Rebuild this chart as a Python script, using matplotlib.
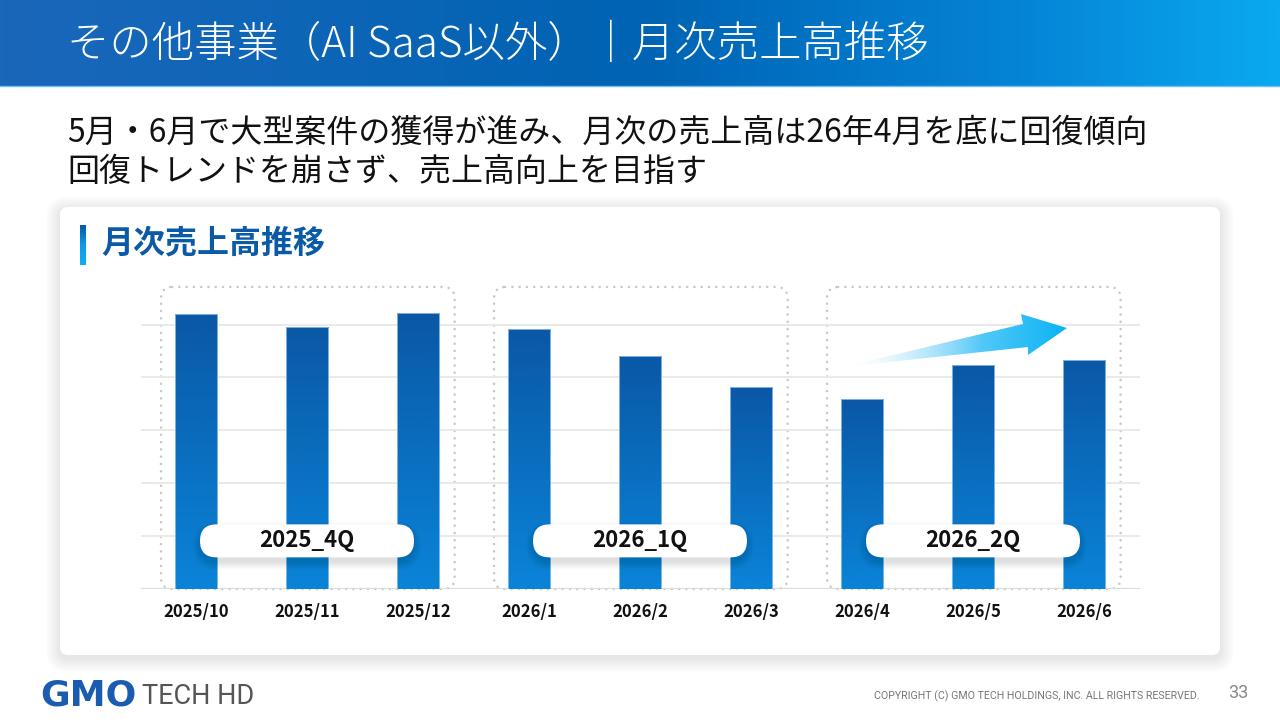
import numpy as np
import matplotlib
matplotlib.use('Agg')
import matplotlib.pyplot as plt
from matplotlib.patches import FancyBboxPatch, Polygon
from matplotlib.colors import LinearSegmentedColormap

plt.rcParams['font.family'] = ['Noto Sans CJK JP', 'DejaVu Sans']

# ---------------- data ----------------
months = ['2025/10', '2025/11', '2025/12', '2026/1', '2026/2', '2026/3',
          '2026/4', '2026/5', '2026/6']
monthly_sales = [5.19, 4.95, 5.21, 4.91, 4.40, 3.81, 3.59, 4.23, 4.33]
quarter_labels = ['2025_4Q', '2026_1Q', '2026_2Q']
months_per_quarter = [3, 3, 3]
gridline_values = [1, 2, 3, 4, 5]

page_title = 'その他事業（AI SaaS以外）｜月次売上高推移'
headline = ['5月・6月で大型案件の獲得が進み、月次の売上高は26年4月を底に回復傾向',
            '回復トレンドを崩さず、売上高向上を目指す']
panel_title = '月次売上高推移'
logo_main = 'GMO'
logo_sub = 'TECH HD'
copyright_text = 'COPYRIGHT (C) GMO TECH HOLDINGS, INC. ALL RIGHTS RESERVED.'
page_number = '33'

# ---------------- figure ----------------
W, H = 1280, 720
fig = plt.figure(figsize=(W / 100, H / 100), dpi=100)
fig.patch.set_facecolor('white')


def px_axes(z):
    a = fig.add_axes([0, 0, 1, 1], zorder=z)
    a.set_xlim(0, W)
    a.set_ylim(H, 0)
    a.set_autoscale_on(False)
    a.set_axis_off()
    return a


bg = px_axes(0)

# header band
hdr_cmap = LinearSegmentedColormap.from_list(
    'hdr', [(0, '#1a67ba'), (0.5, '#0063b3'), (0.8, '#0584d6'), (1, '#0aa9f0')])
bg.imshow(np.linspace(0, 1, 512).reshape(1, -1), extent=[0, W, 86, 0],
          cmap=hdr_cmap, aspect='auto', zorder=1)
bg.plot([0, W], [86, 86], color='#6fc0f0', lw=1, zorder=1.5)
bg.text(67, 45, page_title, color='white', fontsize=30.5, fontweight='light',
        va='center', ha='left', zorder=2)

# headline
bg.text(67, 133, headline[0], fontsize=23, color='#111111', va='center', ha='left')
bg.text(67, 172, headline[1], fontsize=23, color='#111111', va='center', ha='left')

# card with soft shadow
cx0, cy0, cw, ch = 60, 207, 1160, 448
for i in range(12):
    p = 1 + i * 1.2
    bg.add_patch(FancyBboxPatch((cx0 - p, cy0 - p + 3), cw + 2 * p, ch + 2 * p,
                                boxstyle=f'round,pad=0,rounding_size={8 + p}',
                                fc='black', ec='none', alpha=0.006, zorder=2))
bg.add_patch(FancyBboxPatch((cx0, cy0), cw, ch, boxstyle='round,pad=0,rounding_size=8',
                            fc='white', ec='none', zorder=3))

# panel title with accent bar
acc_cmap = LinearSegmentedColormap.from_list('acc', ['#0a56a4', '#0d9ae8', '#12aef2'])
bg.imshow(np.linspace(0, 1, 100).reshape(-1, 1), extent=[80, 86, 265, 225],
          cmap=acc_cmap, aspect='auto', zorder=4)
bg.text(101, 244, panel_title, fontsize=23, fontweight='bold', color='#0b5aa6',
        va='center', ha='left', zorder=4)

# footer
bg.text(40, 696, logo_main, fontsize=26, fontweight='heavy', color='#1a5cb0',
        family=['DejaVu Sans'], va='center', ha='left')
bg.text(142, 697, logo_sub, fontsize=19.5, color='#555555',
        family=['Roboto', 'DejaVu Sans'], va='center', ha='left')
bg.text(1200, 696, copyright_text, fontsize=7.7, color='#777777',
        family=['Roboto', 'DejaVu Sans'], va='center', ha='right')
bg.text(1228, 693, page_number, fontsize=13, color='#888888',
        family=['Roboto', 'DejaVu Sans'], va='center', ha='left')

# ---------------- chart axes ----------------
baseline_px, unit_px, ymax = 589, 52.9, 6
left_px, right_px = 140.5, 1139.5
ax = fig.add_axes([left_px / W, (H - baseline_px) / H,
                   (right_px - left_px) / W, ymax * unit_px / H], zorder=5)
ax.patch.set_alpha(0)
x = np.arange(len(months))
for s in ax.spines.values():
    s.set_visible(False)
ax.set_yticks(gridline_values)
ax.tick_params(axis='y', length=0, labelleft=False)
ax.grid(axis='y', color='#e8e8e8', lw=1.3, zorder=0)
ax.axhline(0, color='#dcdcdc', lw=1.6, zorder=1)

bars = ax.bar(x, monthly_sales, width=0.38, color='none', edgecolor='#8fc2ec',
              lw=0.6, zorder=3)
bar_cmap = LinearSegmentedColormap.from_list('bar', ['#0a58a6', '#0a84d8'])
for b in bars:
    im = ax.imshow(np.linspace(0, 1, 256).reshape(-1, 1),
                   extent=[b.get_x(), b.get_x() + b.get_width(), 0, b.get_height()],
                   cmap=bar_cmap, aspect='auto', origin='upper', zorder=2)
    im.set_clip_path(b)

ax.set_xlim(-0.5, len(months) - 0.5)
ax.set_ylim(0, ymax)
ax.set_xticks(x, months, fontsize=12, fontweight='bold', color='#111111')
ax.tick_params(axis='x', length=0, pad=10)

# ---------------- overlay (pills, arrow) ----------------
fg = px_axes(10)


def data_to_px(xd, yd):
    disp = ax.transData.transform((xd, yd))
    return bg.transData.inverted().transform(disp)


start = 0
box_top = 5.71
pill_y = 0.91
for q, n in zip(quarter_labels, months_per_quarter):
    x0, x1 = start - 0.315, start + n - 1 + 0.33
    px0, py0 = data_to_px(x0, 0)
    px1, py1 = data_to_px(x1, box_top)
    bb = FancyBboxPatch((px0, py1), px1 - px0, py0 - py1,
                        boxstyle='round,pad=0,rounding_size=11', fc='none',
                        ec='#c9c9c9', lw=1.9, ls=(0, (0.01, 2.75)), zorder=6)
    bb.set_capstyle('round')
    bg.add_patch(bb)

    pcx, pcy = data_to_px(start + (n - 1) / 2, pill_y)
    pw, ph = 214, 33
    for i in range(8):
        p = i * 1.0
        fg.add_patch(FancyBboxPatch((pcx - pw / 2 - p, pcy - ph / 2 - p + 5),
                                    pw + 2 * p, ph + 2 * p,
                                    boxstyle=f'round,pad=0,rounding_size={ph / 2 + p}',
                                    fc='black', ec='none', alpha=0.015, zorder=1))
    fg.add_patch(FancyBboxPatch((pcx - pw / 2, pcy - ph / 2), pw, ph,
                                boxstyle=f'round,pad=0,rounding_size={ph / 2}',
                                fc='white', ec='none', zorder=2))
    fg.text(pcx, pcy, q, fontsize=16, fontweight='bold', color='#111111',
            ha='center', va='center', zorder=3)
    start += n

# trend arrow (decoration)
arrow_pts = [(843, 367), (1023, 324), (1021, 314), (1067, 328), (1028, 355), (1028, 347)]
poly = Polygon(arrow_pts, closed=True, fc='none', ec='none')
fg.add_patch(poly)
t = np.linspace(0, 1, 256)
c0 = np.array([1.0, 1.0, 1.0])
c1 = np.array([0.05, 0.70, 0.96])
rgba = np.zeros((2, 256, 4))
rgba[..., :3] = c0 + (c1 - c0) * (t ** 0.7)[:, None]
rgba[..., 3] = np.clip(t * 1.6, 0, 1)
aim = fg.imshow(rgba, extent=[843, 1067, 370, 310], aspect='auto', zorder=4)
aim.set_clip_path(poly)

for a in (bg, fg):
    a.set_xlim(0, W)
    a.set_ylim(H, 0)

fig.savefig('out.png', dpi=100, facecolor='white')
